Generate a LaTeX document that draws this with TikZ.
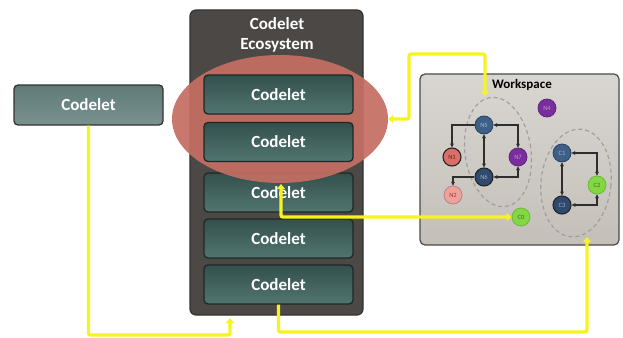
\documentclass[tikz,border=0pt]{standalone}
\usepackage{fontspec}
\setmainfont{Carlito}
\usetikzlibrary{shapes.geometric,arrows.meta}
\definecolor{ecofill}{HTML}{4B4846}
\definecolor{ecodraw}{HTML}{353331}
\definecolor{cdtop}{HTML}{33504C}
\definecolor{cdbot}{HTML}{527570}
\definecolor{cdline}{HTML}{1E2828}
\definecolor{lctop}{HTML}{5E7A77}
\definecolor{lcbot}{HTML}{7A928F}
\definecolor{ellred}{HTML}{C46E62}
\definecolor{wstop}{HTML}{D9D6D1}
\definecolor{wsbot}{HTML}{C4BFB9}
\definecolor{wsline}{HTML}{4A4A4A}
\definecolor{yel}{HTML}{F7F31E}
\definecolor{nblue}{HTML}{3E6088}
\definecolor{ndblue}{HTML}{2E4A70}
\definecolor{npurple}{HTML}{7A2E9E}
\definecolor{nsalmon}{HTML}{DA6E68}
\definecolor{npink}{HTML}{EDA29C}
\definecolor{ngreen}{HTML}{82D843}
\definecolor{dashgray}{HTML}{9A9DA2}
\definecolor{arrgray}{HTML}{2E2E2E}
\tikzset{
  codelet/.style={rounded corners=4pt, draw=cdline, line width=1.3pt,
    top color=cdtop, bottom color=cdbot, text=white,
    font=\bfseries\fontsize{17}{20}\selectfont,
    minimum width=149pt, minimum height=39pt, inner sep=0pt},
  outcodelet/.style={codelet, draw=ecodraw, top color=lctop, bottom color=lcbot},
  ecobox/.style={rounded corners=6pt, draw=ecodraw, line width=1.2pt, fill=ecofill,
    minimum width=173pt, minimum height=305pt, inner sep=0pt},
  wsbox/.style={rounded corners=5pt, draw=wsline, line width=1.2pt,
    top color=wstop, bottom color=wsbot,
    minimum width=199pt, minimum height=171pt, inner sep=0pt},
  wnode/.style={circle, minimum size=18pt, inner sep=0pt, line width=0.8pt,
    font=\fontsize{6.5}{7}\selectfont},
  grp/.style={ellipse, draw=dashgray, dashed, dash pattern=on 4pt off 3pt,
    line width=1.1pt, inner sep=0pt},
  yarr/.style={draw=yel, line width=3.3pt, rounded corners=2pt,
    -{Triangle[length=5pt,width=8pt]}},
  yarrb/.style={yarr, {Triangle[length=5pt,width=8pt]}-{Triangle[length=5pt,width=8pt]}},
  garr/.style={draw=arrgray, line width=1.3pt, -{Stealth[length=4pt,width=4pt]}},
  garrb/.style={garr, {Stealth[length=4pt,width=4pt]}-{Stealth[length=4pt,width=4pt]}},
}
\begin{document}
\begin{tikzpicture}[x=1pt,y=-1pt]
\useasboundingbox[fill=white] (0,0) rectangle (623,337);

% left codelet
\node[outcodelet, minimum height=40pt] (lc) at (88.5,105) {Codelet};

% ecosystem
\node[ecobox] (eco) at (276.5,162.5) {};
\node[text=white, font=\bfseries\fontsize{17}{20.5}\selectfont, align=center] (ecot) at (277,35) {Codelet\\Ecosystem};
\node[codelet] (c3) at (278.5,192.5) {Codelet};
\node[codelet] (c4) at (278.5,238.5) {Codelet};
\node[codelet] (c5) at (278.5,284.5) {Codelet};
\node[ellipse, fill=ellred, fill opacity=0.93, minimum width=216pt, minimum height=128pt, inner sep=0pt] (ell) at (280,119) {};
\node[codelet] (c1) at (278.5,94.5) {Codelet};
\node[codelet] (c2) at (278.5,142) {Codelet};

% workspace
\node[wsbox] (ws) at (519.5,159.5) {};
\node[font=\bfseries\fontsize{13}{15}\selectfont, text=black] (wst) at (522,85) {Workspace};
\node[grp, minimum width=66pt, minimum height=110pt, rotate=8] (g1) at (498,152) {};
\node[grp, minimum width=70pt, minimum height=108pt, rotate=-6] (g2) at (576,183) {};

\node[wnode, fill=nblue, draw=nblue!70!black, text=nblue!45!white] (N5) at (484,125) {N5};
\node[wnode, fill=nsalmon, draw=black!85, line width=1.1pt, text=nsalmon!40!black] (N1) at (452,157) {N1};
\node[wnode, fill=npurple, draw=npurple!80!black, text=npurple!50!white] (N7) at (518,157) {N7};
\node[wnode, fill=ndblue, draw=black!85, line width=1.1pt, text=ndblue!45!white] (N6) at (484,177) {N6};
\node[wnode, fill=npink, draw=npink!80!black, text=npink!45!red!70!black] (N2) at (453,195) {N2};
\node[wnode, fill=npurple, draw=npurple!80!black, text=npurple!50!white] (N4) at (547,108) {N4};
\node[wnode, fill=nblue, draw=nblue!70!black, text=nblue!45!white] (C1) at (562,153) {C1};
\node[wnode, fill=ngreen, draw=ngreen!85!black, text=ngreen!50!black] (C2) at (597,185) {C2};
\node[wnode, fill=ndblue, draw=black!85, line width=1.1pt, text=ndblue!45!white] (C3) at (562,205) {C3};
\node[wnode, fill=ngreen, draw=ngreen!85!black, text=ngreen!50!black] (C0) at (521,217) {C0};

% workspace arrows
\draw[garr] (N5.west) -| (N1.north);
\draw[garrb] (N5.east) -| (N7.north);
\draw[garrb] (N5.south) -- (N6.north);
\draw[garrb] (N6.east) -| (N7.south);
\draw[garr] (N6.west) -| (N2.north);
\draw[garrb] (C1.east) -| (C2.north);
\draw[garrb] (C1.south) -- (C3.north);
\draw[garrb] (C3.east) -| (C2.south);

% yellow connectors
\coordinate (ecoA) at (230,318);
\coordinate (y1) at (0,335);
\draw[yarr] (lc.south) -- (lc.south |- y1) -| (ecoA);

\coordinate (wsB) at (587,237);
\coordinate (y2) at (0,332);
\draw[yarr] (c5.south) -- (c5.south |- y2) -| (wsB);

\coordinate (ellB) at (281,184);
\draw[yarrb] (C0.west) -| (ellB);

\coordinate (k4) at (409,54);
\coordinate (wsT) at (485,96);
\draw[yarrb] (ell.east) -| (k4) -| (wsT);
\end{tikzpicture}
\end{document}
